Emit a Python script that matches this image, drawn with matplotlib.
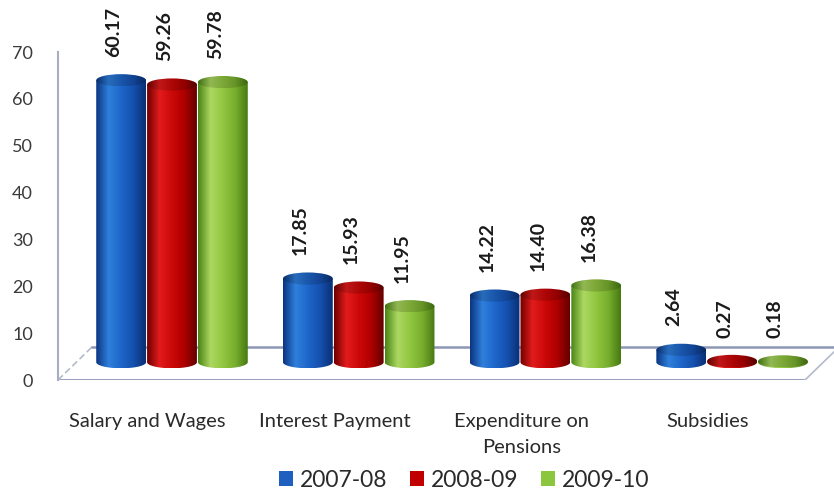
import numpy as np
import matplotlib
matplotlib.use("Agg")
import matplotlib.pyplot as plt
from matplotlib.patches import Ellipse, PathPatch, Patch
from matplotlib.path import Path
from matplotlib.colors import LinearSegmentedColormap, to_rgb

# ---- data -------------------------------------------------------------
categories = ["Salary and Wages", "Interest Payment",
              "Expenditure on\nPensions", "Subsidies"]
series_names = ["2007-08", "2008-09", "2009-10"]
values_2007 = [60.17, 17.85, 14.22, 2.64]
values_2008 = [59.26, 15.93, 14.40, 0.27]
values_2009 = [59.78, 11.95, 16.38, 0.18]
y_ticks = [0, 10, 20, 30, 40, 50, 60, 70]

series_values = [values_2007, values_2008, values_2009]

# ---- style ------------------------------------------------------------
plt.rcParams["font.family"] = ["Lato", "DejaVu Sans"]
legend_colors = ["#1f5fbf", "#c00000", "#8cc63f"]
gradients = [
    ["#0b3580", "#2f7fdc", "#1e66ca", "#1550ae", "#0a2f74"],
    ["#700000", "#e21c1c", "#cc0808", "#ae0000", "#640000"],
    ["#4a8416", "#acd862", "#92c640", "#78ae2e", "#467a12"],
]

W, H = 834, 494
fig = plt.figure(figsize=(W / 100, H / 100), dpi=100)

# plot area: left spine at x=58px, value 0 at y=380px, 70 at y=52px
px_per_unit = (380 - 52) / 70.0
ax_left, ax_bottom = 58 / W, (H - 380) / H
ax_top_px = 4
ax = fig.add_axes([ax_left, ax_bottom, 1 - ax_left, (380 - ax_top_px) / H])
ymax = (380 - ax_top_px) / px_per_unit

group_px = 186.7
xmin = -(172 - 58) / group_px
xmax = (W - 172) / group_px

base = 3.8          # depth offset of the bar row above the front floor edge
bar_w = 0.267       # bar width in group units
ell_h = 2.6         # ellipse full height in value units
offsets = [-1, 0, 1]
label_shift = -0.04


def draw_cylinder(cx, top, stops, z):
    x0, x1 = cx - bar_w / 2, cx + bar_w / 2
    cmap = LinearSegmentedColormap.from_list("g", stops)
    grad = np.linspace(0, 1, 200)[None, :]
    # body: rectangle plus lower half ellipse
    t = np.linspace(np.pi, 2 * np.pi, 60)
    bx = cx + (bar_w / 2) * np.cos(t)
    by = base + (ell_h / 2) * np.sin(t)
    verts = [(x0, top)] + list(zip(bx, by)) + [(x1, top), (x0, top)]
    body = PathPatch(Path(verts, closed=True), facecolor="none",
                     edgecolor="none", zorder=z)
    ax.add_patch(body)
    im = ax.imshow(grad, cmap=cmap, aspect="auto",
                   extent=[x0, x1, base - ell_h / 2, top], zorder=z,
                   interpolation="bilinear")
    im.set_clip_path(body)
    # top cap
    cap_stops = [tuple(0.85 * np.array(to_rgb(c))) for c in stops]
    cap = Ellipse((cx, top), bar_w, ell_h, facecolor="none",
                  edgecolor="none", zorder=z + 0.1)
    ax.add_patch(cap)
    im2 = ax.imshow(grad, cmap=LinearSegmentedColormap.from_list("c", cap_stops),
                    aspect="auto", interpolation="bilinear",
                    extent=[x0, x1, top - ell_h / 2, top + ell_h / 2],
                    zorder=z + 0.1)
    im2.set_clip_path(cap)


# floor (perspective plane)
floor_back = 7.04
front_right = (805 - 172) / group_px
back_left = (92 - 172) / group_px
ax.plot([xmin, front_right], [0, 0], color="#9aa3bd", lw=2.2,
        zorder=1, solid_capstyle="butt")
ax.plot([back_left, xmax], [floor_back, floor_back],
        color="#8c97b5", lw=1.8, zorder=1)
ax.plot([xmin, back_left], [0, floor_back], color="#b4bacb",
        lw=1.2, ls=(0, (4, 2)), zorder=1)
ax.plot([front_right, xmax], [0, 6.0], color="#b4bacb", lw=1.2, zorder=1)

for gi in range(len(categories)):
    for si in range(len(series_names)):
        v = series_values[si][gi]
        cx = gi + offsets[si] * bar_w * 1.02
        draw_cylinder(cx, base + v, gradients[si], 3 + si * 0.01 + gi)
        ax.text(cx + label_shift, base + v + 5.0, f"{v:.2f}", rotation=90,
                ha="center", va="bottom", fontsize=14, fontweight="bold",
                color="#1a1a1a", zorder=20)

ax.set_xlim(xmin, xmax)
ax.set_ylim(0, ymax)

# axes styling
for s in ["top", "right", "bottom"]:
    ax.spines[s].set_visible(False)
ax.spines["left"].set_bounds(0, 70)
ax.spines["left"].set_color("#a8aec2")
ax.spines["left"].set_linewidth(1.5)
ax.set_yticks(y_ticks)
ax.tick_params(axis="y", length=0, pad=18, labelsize=13, labelcolor="#3a3a3a")
ax.set_xticks([i - 0.13 for i in range(len(categories))])
ax.set_xticklabels(categories, fontsize=14.5, color="#2a2a2a", linespacing=1.6)
ax.tick_params(axis="x", length=0, pad=24)

handles = [Patch(facecolor=c, edgecolor="none") for c in legend_colors]
fig.legend(handles, series_names, loc="center",
           bbox_to_anchor=(464 / W, 1 - 480 / H),
           ncol=3, frameon=False, fontsize=16.5, handlelength=0.6,
           handleheight=0.6, handletextpad=0.3, columnspacing=1.0,
           labelcolor="#2a2a2a", borderpad=0.0)

fig.savefig("out.png", dpi=100, facecolor="white")
